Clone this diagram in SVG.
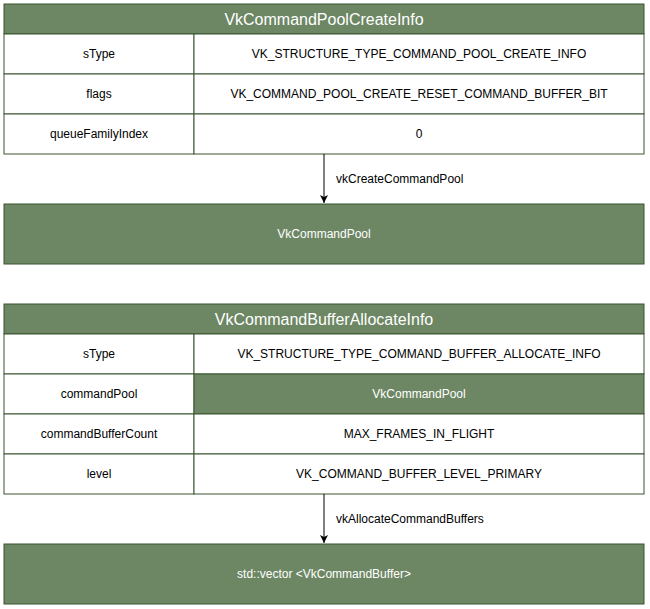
<svg xmlns="http://www.w3.org/2000/svg" width="650" height="609" viewBox="0 0 650 609">
<style>
.g{fill:#6d8764;stroke:#3a5431;stroke-width:1}
.w{fill:#ffffff;stroke:#3a5431;stroke-width:1}
text{font-family:"Liberation Sans",Arial,sans-serif;font-size:12px;text-anchor:middle;dominant-baseline:central}
.h{fill:#ffffff;font-size:16px}
.wt{fill:#ffffff}
.k{fill:#000000}
.lbl{text-anchor:start}
</style>
<defs>
<marker id="arr" viewBox="0 0 10 10" refX="10" refY="5" markerWidth="8" markerHeight="8" markerUnits="userSpaceOnUse" orient="auto">
<path d="M0,0 L10,5 L0,10 L2.5,5 Z" fill="#000"/>
</marker>
</defs>
<rect width="650" height="609" fill="#ffffff"/>
<g id="poolCreateInfo">
<rect class="g" x="4" y="4" width="640" height="30"/>
<text class="h" x="324" y="19.5">VkCommandPoolCreateInfo</text>
<rect class="w" x="4" y="34" width="190" height="40"/>
<rect class="w" x="194" y="34" width="450" height="40"/>
<text class="k" x="99" y="54">sType</text>
<text class="k" x="419" y="54">VK_STRUCTURE_TYPE_COMMAND_POOL_CREATE_INFO</text>
<rect class="w" x="4" y="74" width="190" height="40"/>
<rect class="w" x="194" y="74" width="450" height="40"/>
<text class="k" x="99" y="94">flags</text>
<text class="k" x="419" y="94">VK_COMMAND_POOL_CREATE_RESET_COMMAND_BUFFER_BIT</text>
<rect class="w" x="4" y="114" width="190" height="40"/>
<rect class="w" x="194" y="114" width="450" height="40"/>
<text class="k" x="99" y="134">queueFamilyIndex</text>
<text class="k" x="419" y="134">0</text>
</g>
<g id="commandPool">
<rect class="g" x="4" y="204" width="640" height="60"/>
<text class="wt" x="324" y="234">VkCommandPool</text>
</g>
<g id="bufferAllocateInfo">
<rect class="g" x="4" y="304" width="640" height="30"/>
<text class="h" x="324" y="319.5">VkCommandBufferAllocateInfo</text>
<rect class="w" x="4" y="334" width="190" height="40"/>
<rect class="w" x="194" y="334" width="450" height="40"/>
<text class="k" x="99" y="354">sType</text>
<text class="k" x="419" y="354">VK_STRUCTURE_TYPE_COMMAND_BUFFER_ALLOCATE_INFO</text>
<rect class="w" x="4" y="374" width="190" height="40"/>
<rect class="g" x="194" y="374" width="450" height="40"/>
<text class="k" x="99" y="394">commandPool</text>
<text class="wt" x="419" y="394">VkCommandPool</text>
<rect class="w" x="4" y="414" width="190" height="40"/>
<rect class="w" x="194" y="414" width="450" height="40"/>
<text class="k" x="99" y="434">commandBufferCount</text>
<text class="k" x="419" y="434">MAX_FRAMES_IN_FLIGHT</text>
<rect class="w" x="4" y="454" width="190" height="40"/>
<rect class="w" x="194" y="454" width="450" height="40"/>
<text class="k" x="99" y="474">level</text>
<text class="k" x="419" y="474">VK_COMMAND_BUFFER_LEVEL_PRIMARY</text>
</g>
<g id="commandBuffers">
<rect class="g" x="4" y="544" width="640" height="60"/>
<text class="wt" x="324" y="574">std::vector &lt;VkCommandBuffer&gt;</text>
</g>
<g id="connectors">
<line x1="324" y1="154" x2="324" y2="203" stroke="#000" stroke-width="1" marker-end="url(#arr)"/>
<text class="k lbl" x="336" y="179">vkCreateCommandPool</text>
<line x1="324" y1="494" x2="324" y2="543" stroke="#000" stroke-width="1" marker-end="url(#arr)"/>
<text class="k lbl" x="336" y="519">vkAllocateCommandBuffers</text>
</g>
</svg>
